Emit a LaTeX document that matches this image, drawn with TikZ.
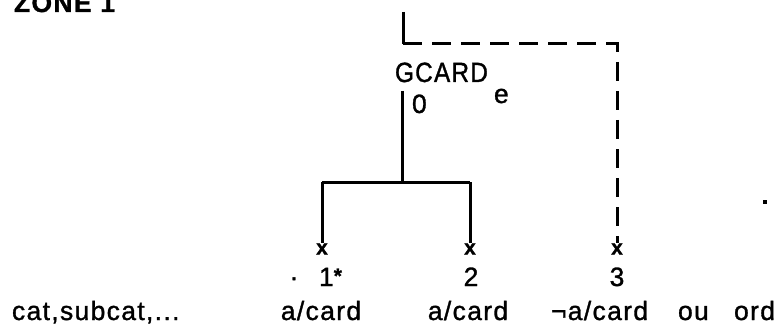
\documentclass[tikz,border=0pt]{standalone}
\usepackage{fontspec}
\setmainfont{Liberation Sans}[LetterSpace=5,FakeBold=1.2]
\begin{document}
\begin{tikzpicture}[x=1pt,y=1pt,
  lbl/.style={inner sep=0pt,outer sep=0pt,font=\fontsize{26.5}{30}\selectfont},
  xmark/.style={inner sep=0pt,outer sep=0pt,font=\fontsize{21}{22}\selectfont\bfseries},
  solidln/.style={line width=3pt},
  dashln/.style={line width=3pt,dash pattern=on 19pt off 10pt}]
\useasboundingbox (0,0) rectangle (778,327);
\clip (0,0) rectangle (778,327);
% title
\node[lbl,anchor=base west] (zone) at (14,315) {\bfseries ZONE 1};
% top connectors
\coordinate (top) at (403,315);
\coordinate (corner) at (403,283);
\coordinate (rc) at (617,283);
\node[lbl,anchor=base west] (gcard) at (395,245) {\scalebox{0.92}[1.05]{GCARD}};
\node[lbl,anchor=base west] (sub) at (494,224) {e};
\node[lbl,anchor=base west] (zero) at (412,214) {0};
\coordinate (g0) at (402,236);
\coordinate (fork) at (402,145);
\coordinate (fl) at (322,145);
\coordinate (fr) at (470,145);
\node[xmark] (x1) at (322,78) {x};
\node[xmark] (x2) at (470,78) {x};
\node[xmark] (x3) at (617,78) {x};
\draw[solidln] (top) -- (corner);
\draw[dashln] (corner) -- (rc) -- (x3.north);
\draw[solidln] (g0) -- (fork);
\draw[solidln] (fl) -- (fr);
\draw[solidln] (fl) -- (x1.north);
\draw[solidln] (fr) -- (x2.north);
% labels
\node[lbl,anchor=base] (dot1) at (294,41) {\textperiodcentered};
\node[lbl,anchor=base west] (one) at (319,41) {1\raisebox{3pt}{\fontsize{21}{21}\selectfont\bfseries *}};
\node[lbl,anchor=base] (two) at (471,41) {2};
\node[lbl,anchor=base] (three) at (617,41) {3};
\node[lbl,anchor=base west] (cat) at (12,7) {cat,subcat,...};
\node[lbl,anchor=base] (c1) at (321,7) {a/card};
\node[lbl,anchor=base] (c2) at (468,7) {a/card};
\node[lbl,anchor=base west] (c3) at (551,7) {¬a/card};
\node[lbl,anchor=base west] (ou) at (678,7) {ou};
\node[lbl,anchor=base east] (ord) at (775,7) {ord};
\fill (763,123.5) rectangle (766.5,127) coordinate (speck);
\end{tikzpicture}
\end{document}
